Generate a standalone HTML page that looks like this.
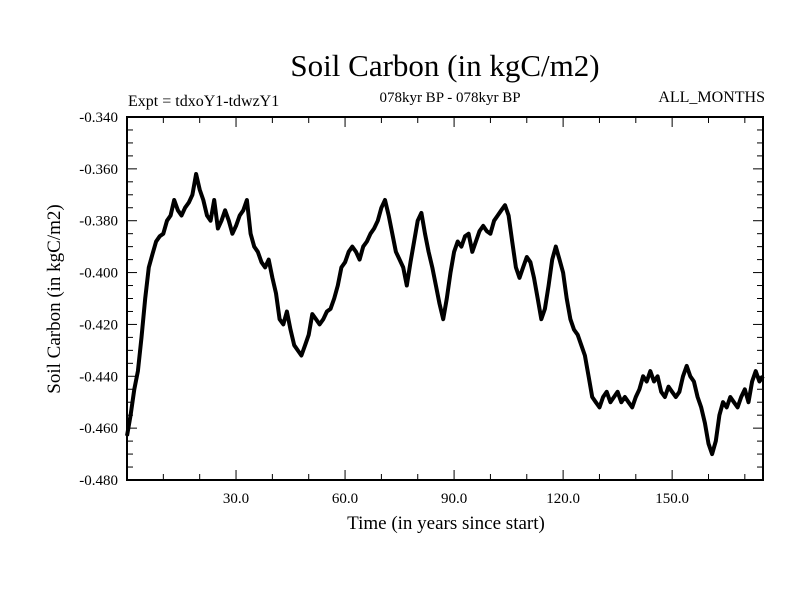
<!DOCTYPE html>
<html><head><meta charset="utf-8"><style>
body{margin:0;background:#fff}
svg text{font-family:"Liberation Serif",serif;fill:#000}
</style></head><body>
<svg id="c" width="800" height="600">
<text x="445" y="76" font-size="31" text-anchor="middle">Soil Carbon (in kgC/m2)</text>
<text x="128" y="106" font-size="16">Expt = tdxoY1-tdwzY1</text>
<text x="450" y="102" font-size="15" text-anchor="middle">078kyr BP - 078kyr BP</text>
<text x="765" y="102" font-size="16" text-anchor="end">ALL_MONTHS</text>
<text x="446" y="529" font-size="19" text-anchor="middle">Time (in years since start)</text>
<text transform="translate(60,299) rotate(-90)" font-size="19" text-anchor="middle">Soil Carbon (in kgC/m2)</text>
<g id="axes"></g>
<rect x="127" y="117" width="636" height="363" fill="none" stroke="#000" stroke-width="2"/>
</svg>
<script>
const years=[];for(let i=0;i<=175;i++)years.push(i);
const soilCarbon=[-0.463,-0.455,-0.445,-0.438,-0.425,-0.410,-0.398,-0.393,-0.388,-0.386,-0.385,-0.380,-0.378,-0.372,-0.376,-0.378,-0.375,-0.373,-0.370,-0.362,-0.368,-0.372,-0.378,-0.380,-0.372,-0.383,-0.380,-0.376,-0.380,-0.385,-0.382,-0.378,-0.376,-0.372,-0.385,-0.390,-0.392,-0.396,-0.398,-0.395,-0.402,-0.408,-0.418,-0.420,-0.415,-0.422,-0.428,-0.430,-0.432,-0.428,-0.424,-0.416,-0.418,-0.420,-0.418,-0.415,-0.414,-0.410,-0.405,-0.398,-0.396,-0.392,-0.390,-0.392,-0.395,-0.390,-0.388,-0.385,-0.383,-0.380,-0.375,-0.372,-0.378,-0.385,-0.392,-0.395,-0.398,-0.405,-0.396,-0.388,-0.380,-0.377,-0.385,-0.392,-0.398,-0.405,-0.412,-0.418,-0.410,-0.400,-0.392,-0.388,-0.390,-0.386,-0.385,-0.392,-0.388,-0.384,-0.382,-0.384,-0.385,-0.380,-0.378,-0.376,-0.374,-0.378,-0.388,-0.398,-0.402,-0.398,-0.394,-0.396,-0.402,-0.410,-0.418,-0.414,-0.405,-0.395,-0.390,-0.395,-0.400,-0.410,-0.418,-0.422,-0.424,-0.428,-0.432,-0.440,-0.448,-0.450,-0.452,-0.448,-0.446,-0.450,-0.448,-0.446,-0.450,-0.448,-0.450,-0.452,-0.448,-0.445,-0.440,-0.442,-0.438,-0.442,-0.440,-0.446,-0.448,-0.444,-0.446,-0.448,-0.446,-0.440,-0.436,-0.440,-0.442,-0.448,-0.452,-0.458,-0.466,-0.470,-0.465,-0.455,-0.450,-0.452,-0.448,-0.450,-0.452,-0.448,-0.445,-0.450,-0.442,-0.438,-0.442,-0.440];
const xTicks=[30,60,90,120,150];
const xTickLabels=["30.0","60.0","90.0","120.0","150.0"];
const yTicks=[-0.34,-0.36,-0.38,-0.40,-0.42,-0.44,-0.46,-0.48];
const yTickLabels=["-0.340","-0.360","-0.380","-0.400","-0.420","-0.440","-0.460","-0.480"];
const X0=127,X1=763,Y0=117,Y1=480,xmin=0,xmax=175,ymin=-0.48,ymax=-0.34;
const sx=v=>X0+(v-xmin)/(xmax-xmin)*(X1-X0);
const sy=v=>Y1-(v-ymin)/(ymax-ymin)*(Y1-Y0);
const NS="http://www.w3.org/2000/svg",g=document.getElementById('axes');
function mk(t,a){const e=document.createElementNS(NS,t);for(const k in a)e.setAttribute(k,a[k]);g.appendChild(e);return e;}
for(let v=10;v<175;v+=10){const x=sx(v),L=(v%30===0)?10:6;
 let t=mk('line',{x1:x,x2:x,y1:Y1,y2:Y1-L,stroke:'#000','stroke-width':1});
 
 
 t=mk('line',{x1:x,x2:x,y1:Y0,y2:Y0+L,stroke:'#000','stroke-width':1});
 
 }
for(let i=1;i<28;i++){const v=ymin+i*0.005,y=sy(v),L=(i%4===0)?10:6;
 let t=mk('line',{x1:X0,x2:X0+L,y1:y,y2:y,stroke:'#000','stroke-width':1});
 
 
 t=mk('line',{x1:X1,x2:X1-L,y1:y,y2:y,stroke:'#000','stroke-width':1});
 
 }
xTicks.forEach((v,i)=>{const t=mk('text',{x:sx(v),y:503,'font-size':15,'text-anchor':'middle'});t.textContent=xTickLabels[i];
 
 });
yTicks.forEach((v,i)=>{const t=mk('text',{x:118,y:sy(v)+5,'font-size':15,'text-anchor':'end'});t.textContent=yTickLabels[i];
 
 });
const d=soilCarbon.map((v,i)=>(i?'L':'M')+sx(years[i]).toFixed(1)+','+sy(v).toFixed(1)).join('');
const p=mk('path',{d:d,fill:'none',stroke:'#000','stroke-width':4,'stroke-linejoin':'round'});


</script>
</body></html>
